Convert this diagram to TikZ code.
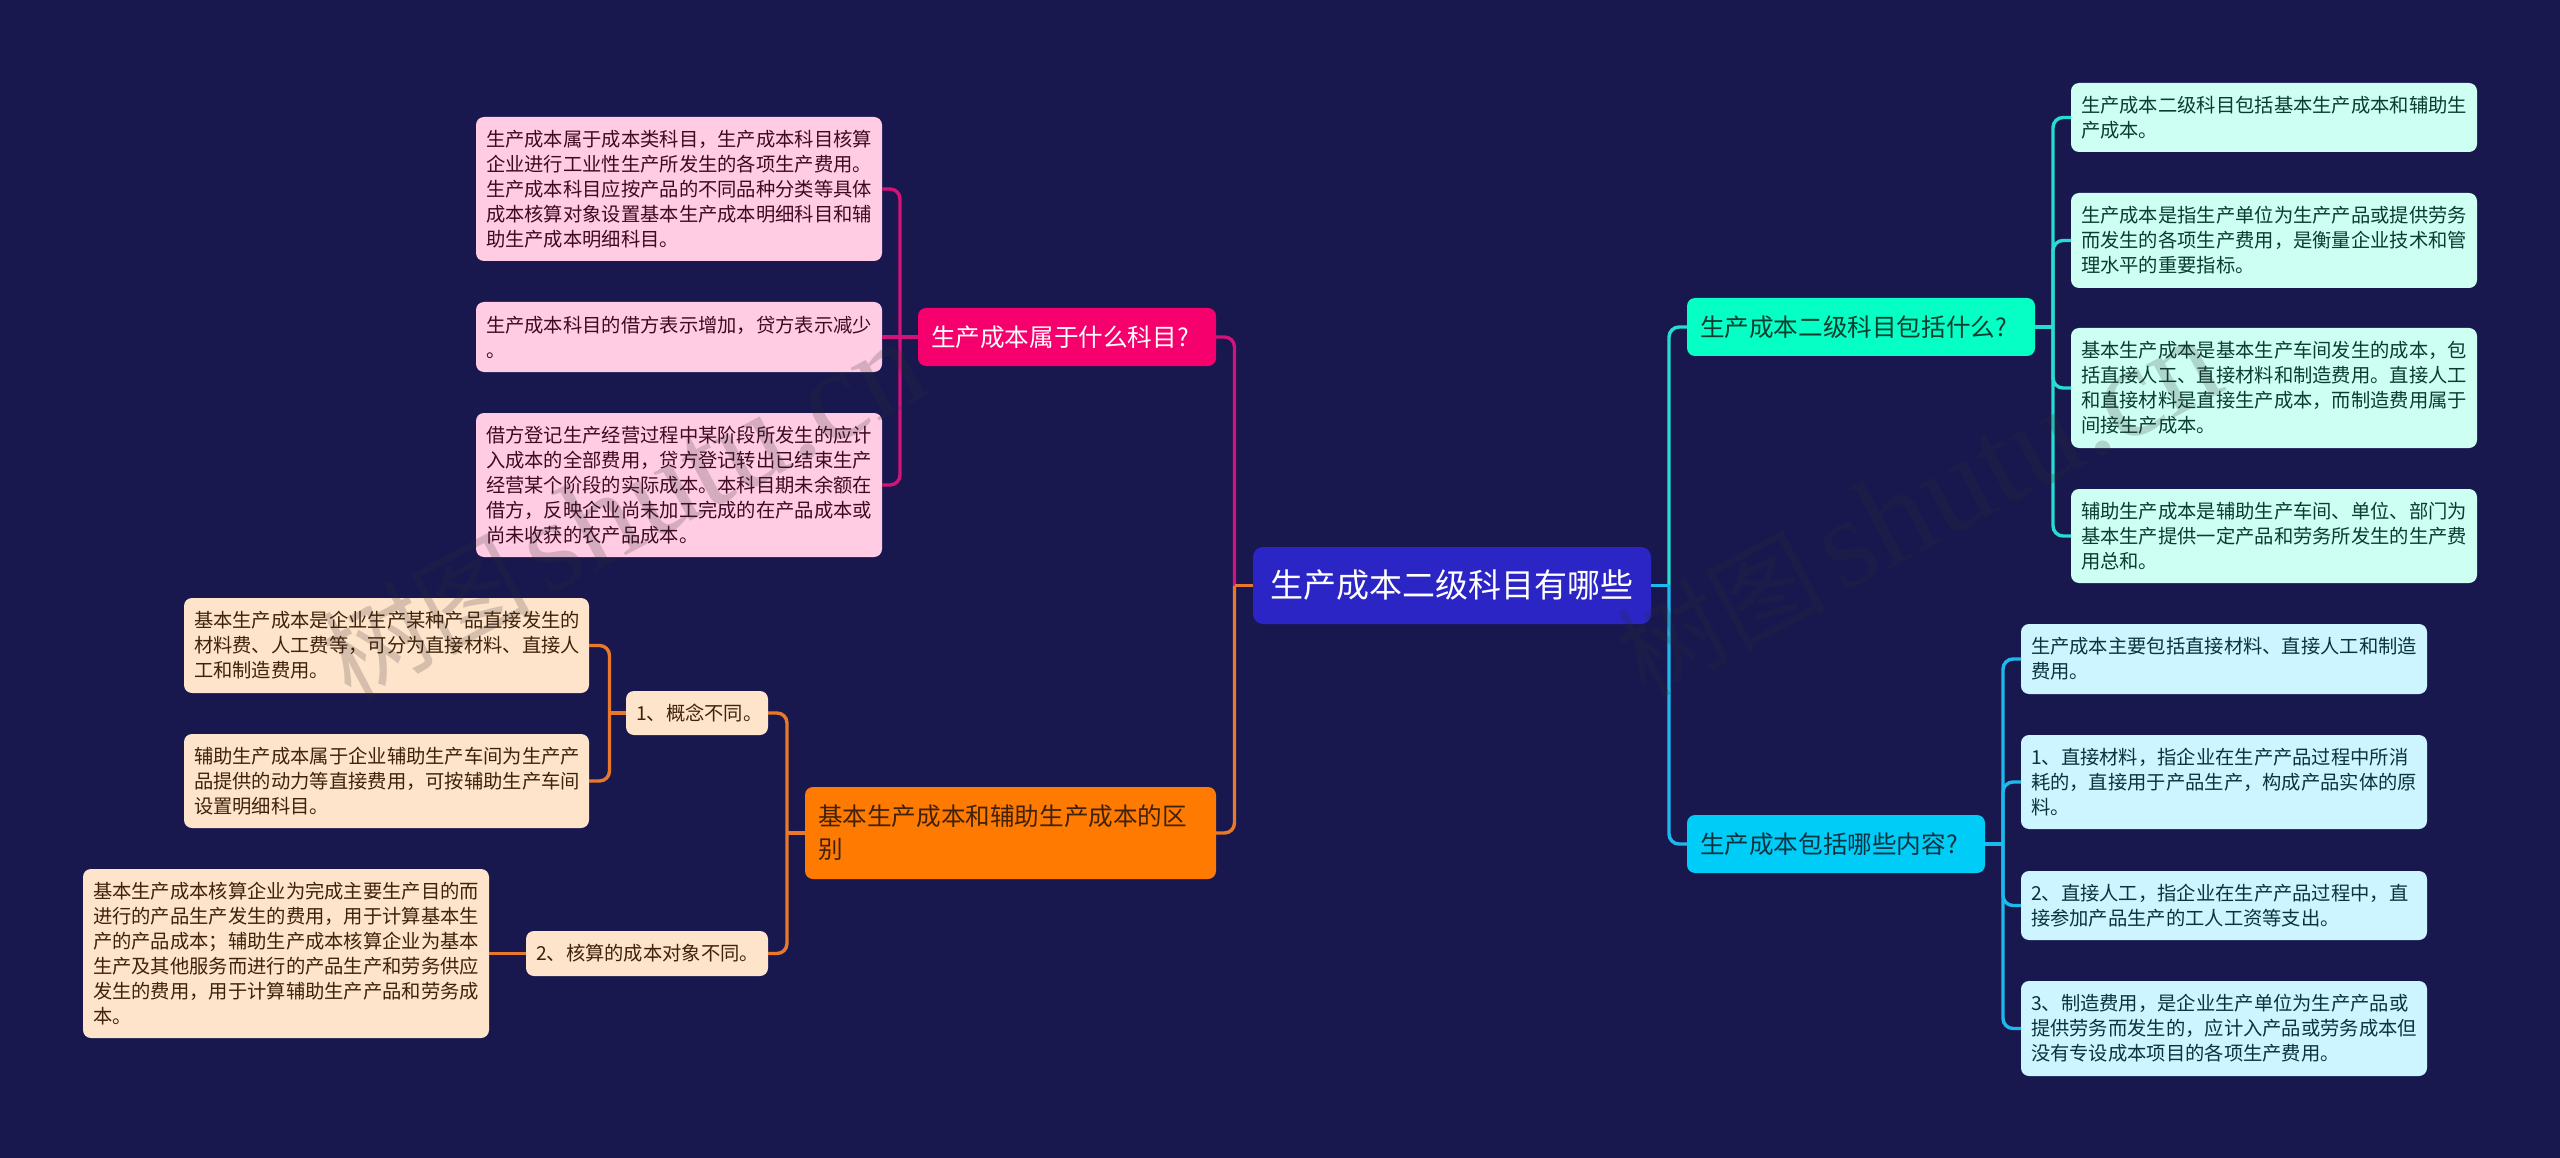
\documentclass[tikz,border=0pt]{standalone}
\usepackage{fontspec}
\setmainfont{Noto Sans CJK SC}
\newfontfamily\wmserif{Liberation Serif}
\definecolor{bgc}{HTML}{18184F}
\definecolor{rootc}{HTML}{2A25C4}
\definecolor{pinkm}{HTML}{F5006C}
\definecolor{pinkl}{HTML}{FFCCE3}
\definecolor{pinkt}{HTML}{3D0A24}
\definecolor{pinkc}{HTML}{D4127A}
\definecolor{orgm}{HTML}{FF7A00}
\definecolor{orgl}{HTML}{FFE4CC}
\definecolor{orgt}{HTML}{40220A}
\definecolor{orgc}{HTML}{E8792A}
\definecolor{grnm}{HTML}{05FFC5}
\definecolor{grnl}{HTML}{CDFFF3}
\definecolor{grnt}{HTML}{0A3D30}
\definecolor{grnc}{HTML}{28DCCF}
\definecolor{blum}{HTML}{00CCF8}
\definecolor{blul}{HTML}{CCF5FF}
\definecolor{blut}{HTML}{0A3340}
\definecolor{bluc}{HTML}{1FB8EA}
\definecolor{wmc}{HTML}{2D2D2D}
\tikzset{
  box/.code n args={5}{%
    \pgfmathsetmacro\bxcx{(#1+#3)/2}%
    \pgfmathsetmacro\bxcy{(#2+#4)/2}%
    \pgfmathsetmacro\bxtw{#3-#1-2*#5}%
    \pgfmathsetmacro\bxh{#4-#2}%
    \tikzset{at={(\bxcx,\bxcy)},text width=\bxtw pt,inner xsep=#5pt,inner ysep=0pt,minimum height=\bxh pt}},
  nd/.style={outer sep=0pt,align=left,rounded corners=8pt},
  leaf/.style={nd,font=\fontsize{19.3}{25}\selectfont},
  branch/.style={nd,font=\fontsize{24.6}{33}\selectfont},
  rootn/.style={nd,rounded corners=10pt,fill=rootc,text=white,font=\fontsize{33}{40}\selectfont},
  lp/.style={leaf,fill=pinkl,text=pinkt},
  lo/.style={leaf,fill=orgl,text=orgt},
  lg/.style={leaf,fill=grnl,text=grnt},
  lb/.style={leaf,fill=blul,text=blut},
  bp/.style={branch,fill=pinkm,text=white},
  bo/.style={branch,fill=orgm,text=orgt},
  bg/.style={branch,fill=grnm,text=grnt},
  bb/.style={branch,fill=blum,text=blut},
  conn/.style={line width=3.4pt,rounded corners=10pt},
  wm/.style={text=wmc,opacity=.2,rotate=28,anchor=base west,inner sep=0pt,font=\fontsize{105}{105}\selectfont},
}
\newcommand{\wmtext}{树图\hspace{14pt}{\wmserif\fontsize{130}{130}\selectfont shutu.cn}}
\begin{document}
\begin{tikzpicture}[x=1pt,y=-1pt]
\useasboundingbox (0,0) rectangle (2560,1158);
\fill[bgc] (0,0) rectangle (2560,1158);
% root
\node[rootn,box={1253}{547}{1651}{624}{17}] (root) {生产成本二级科目有哪些};
% branches
\node[bp,box={918}{308}{1216}{366}{13}] (bpink) {生产成本属于什么科目?};
\node[bo,box={805}{787}{1216}{879}{13}] (borg) {基本生产成本和辅助生产成本的区\\别};
\node[bg,box={1687}{298}{2035}{356}{13}] (bgrn) {生产成本二级科目包括什么?};
\node[bb,box={1687}{815}{1985}{873}{13}] (bblu) {生产成本包括哪些内容?};
% pink leaves
\node[lp,box={476}{117}{882}{261}{10}] (p1) {生产成本属于成本类科目，生产成本科目核算\\企业进行工业性生产所发生的各项生产费用。\\生产成本科目应按产品的不同品种分类等具体\\成本核算对象设置基本生产成本明细科目和辅\\助生产成本明细科目。};
\node[lp,box={476}{302}{882}{372}{10}] (p2) {生产成本科目的借方表示增加，贷方表示减少\\。};
\node[lp,box={476}{413}{882}{557}{10}] (p3) {借方登记生产经营过程中某阶段所发生的应计\\入成本的全部费用，贷方登记转出已结束生产\\经营某个阶段的实际成本。本科目期未余额在\\借方，反映企业尚未加工完成的在产品成本或\\尚未收获的农产品成本。};
% orange
\node[lo,box={626}{691}{768}{735}{10}] (o1) {1、概念不同。};
\node[lo,box={526}{931}{768}{976}{10}] (o2) {2、核算的成本对象不同。};
\node[lo,box={184}{598}{589}{693}{10}] (oa) {基本生产成本是企业生产某种产品直接发生的\\材料费、人工费等，可分为直接材料、直接人\\工和制造费用。};
\node[lo,box={184}{734}{589}{828}{10}] (ob) {辅助生产成本属于企业辅助生产车间为生产产\\品提供的动力等直接费用，可按辅助生产车间\\设置明细科目。};
\node[lo,box={83}{869}{489}{1038}{10}] (oc) {基本生产成本核算企业为完成主要生产目的而\\进行的产品生产发生的费用，用于计算基本生\\产的产品成本；辅助生产成本核算企业为基本\\生产及其他服务而进行的产品生产和劳务供应\\发生的费用，用于计算辅助生产产品和劳务成\\本。};
% green
\node[lg,box={2071}{83}{2477}{152}{10}] (g1) {生产成本二级科目包括基本生产成本和辅助生\\产成本。};
\node[lg,box={2071}{193}{2477}{288}{10}] (g2) {生产成本是指生产单位为生产产品或提供劳务\\而发生的各项生产费用，是衡量企业技术和管\\理水平的重要指标。};
\node[lg,box={2071}{328}{2477}{448}{10}] (g3) {基本生产成本是基本生产车间发生的成本，包\\括直接人工、直接材料和制造费用。直接人工\\和直接材料是直接生产成本，而制造费用属于\\间接生产成本。};
\node[lg,box={2071}{489}{2477}{583}{10}] (g4) {辅助生产成本是辅助生产车间、单位、部门为\\基本生产提供一定产品和劳务所发生的生产费\\用总和。};
% blue
\node[lb,box={2021}{624}{2427}{694}{10}] (c1) {生产成本主要包括直接材料、直接人工和制造\\费用。};
\node[lb,box={2021}{735}{2427}{829}{10}] (c2) {1、直接材料，指企业在生产产品过程中所消\\耗的，直接用于产品生产，构成产品实体的原\\料。};
\node[lb,box={2021}{871}{2427}{940}{10}] (c3) {2、直接人工，指企业在生产产品过程中，直\\接参加产品生产的工人工资等支出。};
\node[lb,box={2021}{981}{2427}{1076}{10}] (c4) {3、制造费用，是企业生产单位为生产产品或\\提供劳务而发生的，应计入产品或劳务成本但\\没有专设成本项目的各项生产费用。};
% spines
\coordinate (sl) at ([xshift=-18.5pt]root.west);
\coordinate (sr) at ([xshift=18pt]root.east);
\coordinate (sp) at ([xshift=-18pt]bpink.west);
\coordinate (so) at ([xshift=-18pt]borg.west);
\coordinate (so1) at ([xshift=-16.5pt]o1.west);
\coordinate (sg) at ([xshift=18pt]bgrn.east);
\coordinate (sb) at ([xshift=18pt]bblu.east);
% connectors
\draw[conn,pinkc] (sl) |- (bpink.east);
\draw[conn,orgc] (sl) |- (borg.east);
\draw[conn,orgc] (root.west) -- (sl);
\draw[conn,grnc] (sr) |- (bgrn.west);
\draw[conn,bluc] (sr) |- (bblu.west);
\draw[conn,bluc] (root.east) -- (sr);
\draw[conn,pinkc] (sp) |- (p1.east);
\draw[conn,pinkc] (sp) |- (p3.east);
\draw[conn,pinkc] (bpink.west) -- (p2.east);
\draw[conn,orgc] (so) |- (o1.east);
\draw[conn,orgc] (so) |- (o2.east);
\draw[conn,orgc] (borg.west) -- (so);
\draw[conn,orgc] (so1) |- (oa.east);
\draw[conn,orgc] (so1) |- (ob.east);
\draw[conn,orgc] (o1.west) -- (so1);
\draw[conn,orgc] (o2.west) -- (oc.east);
\draw[conn,grnc] (sg) |- (g1.west);
\draw[conn,grnc] (sg) |- (g2.west);
\draw[conn,grnc] (sg) |- (g3.west);
\draw[conn,grnc] (sg) |- (g4.west);
\draw[conn,grnc] (bgrn.east) -- (sg);
\draw[conn,bluc] (sb) |- (c1.west);
\draw[conn,bluc] (sb) |- (c2.west);
\draw[conn,bluc] (sb) |- (c3.west);
\draw[conn,bluc] (sb) |- (c4.west);
\draw[conn,bluc] (bblu.east) -- (sb);
% watermarks
\node[wm] (wm1) at (350,702) {\wmtext};
\node[wm] (wm2) at (1645,699) {\wmtext};
\end{tikzpicture}
\end{document}
